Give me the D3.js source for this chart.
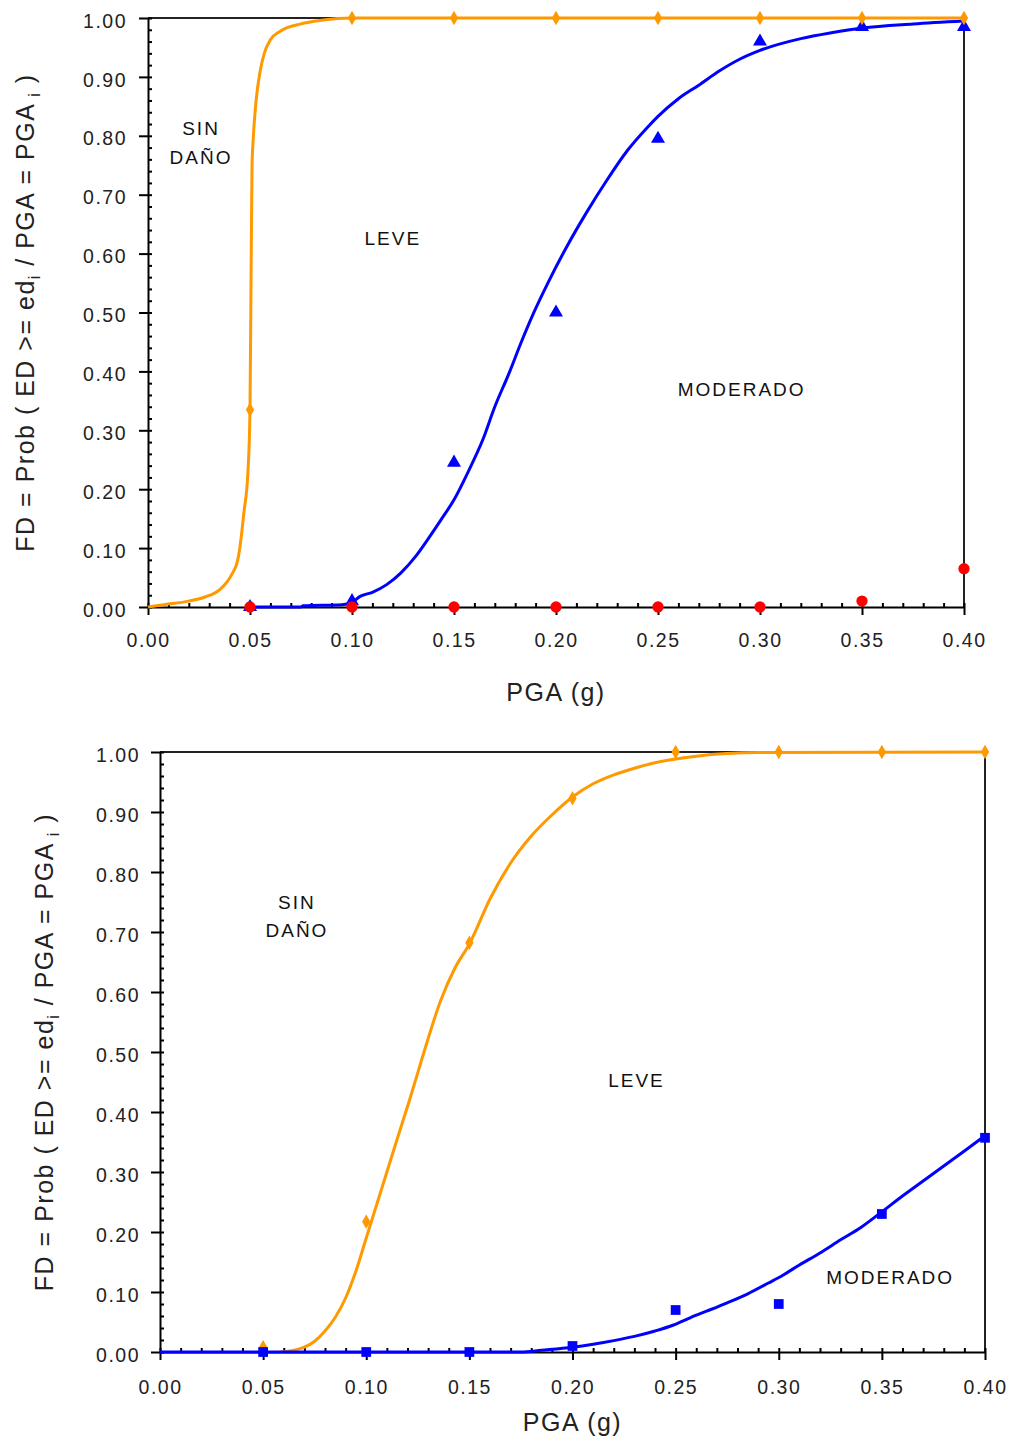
<!DOCTYPE html>
<head>
    <meta charset='utf-8'>
    <title>Curvas de fragilidad</title>
    <script src='https://d3js.org/d3.v7.min.js'></script>
    <style>
        html, body {
            margin: 0px;
            padding: 0px;
            background: white;
        }
        svg {
            display: block;
            font-family: 'Liberation Sans', Arial, sans-serif;
        }
        .tick text {
            font-size: 19.5px;
            letter-spacing: 1.5px;
            fill: #222;
        }
        .note {
            font-size: 19px;
            letter-spacing: 2px;
            fill: #111;
        }
        .title {
            font-size: 25px;
            letter-spacing: 1.5px;
            fill: #222;
        }
    </style>
</head>

<body>
    <svg id='chart' width='1011' height='1444'></svg>

    <script>
        // ---- data ----
        var pga = [0.05, 0.10, 0.15, 0.20, 0.25, 0.30, 0.35, 0.40];
        var xTickLabels = ['0.00', '0.05', '0.10', '0.15', '0.20', '0.25', '0.30', '0.35', '0.40'];
        var yTickLabels = ['0.00', '0.10', '0.20', '0.30', '0.40', '0.50', '0.60', '0.70', '0.80', '0.90', '1.00'];

        // panel 1 observed points
        var top_leve = [0.335, 1.00, 1.00, 1.00, 1.00, 1.00, 1.00, 1.00];      // orange diamonds
        var top_moderado = [0.00, 0.01, 0.245, 0.50, 0.795, 0.96, 0.985, 0.985]; // blue triangles
        var top_severo = [0.00, 0.00, 0.00, 0.00, 0.00, 0.00, 0.01, 0.065];     // red circles

        // panel 1 fitted curves [pga, prob]
        var top_leveCurve = [[0,0],[0.008,0.004],[0.020,0.010],[0.028,0.017],[0.035,0.029],[0.041,0.055],
            [0.044,0.08],[0.045,0.10],[0.047,0.16],[0.049,0.23],[0.050,0.335],[0.0505,0.55],[0.051,0.75],
            [0.0515,0.79],[0.053,0.86],[0.055,0.91],[0.057,0.94],[0.060,0.963],[0.065,0.978],[0.075,0.99],
            [0.085,0.996],[0.100,1.0],[0.400,1.0]];
        var top_moderadoCurve = [[0.050,0],[0.075,0.000],[0.076,0.002],[0.095,0.004],[0.100,0.008],[0.104,0.018],
            [0.110,0.025],[0.117,0.038],[0.124,0.058],[0.131,0.085],[0.138,0.119],[0.144,0.15],[0.150,0.182],
            [0.157,0.23],[0.164,0.283],[0.170,0.34],[0.177,0.397],[0.183,0.45],[0.189,0.499],[0.196,0.55],
            [0.205,0.61],[0.215,0.67],[0.225,0.725],[0.235,0.775],[0.245,0.815],[0.250,0.833],[0.260,0.863],
            [0.270,0.886],[0.280,0.91],[0.290,0.93],[0.300,0.945],[0.320,0.965],[0.335,0.975],[0.350,0.983],
            [0.375,0.99],[0.400,0.995]];

        // panel 2 observed points
        var bot_leve = [0.008, 0.217, 0.682, 0.923, 1.00, 1.00, 1.00, 1.00];    // orange diamonds
        var bot_moderado = [0.00, 0.00, 0.00, 0.01, 0.07, 0.08, 0.23, 0.357];   // blue squares

        // panel 2 fitted curves
        var bot_leveCurve = [[0.058,0],[0.065,0.003],[0.070,0.008],[0.075,0.018],[0.080,0.035],[0.085,0.058],
            [0.090,0.09],[0.095,0.135],[0.100,0.19],[0.105,0.245],[0.110,0.30],[0.115,0.355],[0.121,0.42],
            [0.128,0.50],[0.136,0.585],[0.143,0.64],[0.150,0.68],[0.160,0.755],[0.170,0.815],[0.180,0.86],
            [0.190,0.895],[0.200,0.925],[0.210,0.947],[0.220,0.962],[0.230,0.973],[0.240,0.982],[0.260,0.993],
            [0.290,0.999],[0.400,1.0]];
        var bot_moderadoCurve = [[0,0],[0.175,0],[0.185,0.003],[0.200,0.008],[0.210,0.013],[0.220,0.019],
            [0.230,0.026],[0.240,0.035],[0.249,0.045],[0.257,0.057],[0.265,0.068],[0.275,0.082],[0.285,0.097],
            [0.295,0.115],[0.302,0.128],[0.310,0.145],[0.320,0.165],[0.330,0.187],[0.340,0.208],[0.349,0.231],
            [0.360,0.26],[0.370,0.285],[0.380,0.31],[0.390,0.335],[0.399,0.358]];

        // region labels [pga, prob, text]
        var top_notes = [[0.026, 0.801, 'SIN'], [0.026, 0.752, 'DAÑO'], [0.120, 0.615, 'LEVE'], [0.291, 0.358, 'MODERADO']];
        var bot_notes = [[0.0664, 0.738, 'SIN'], [0.0664, 0.692, 'DAÑO'], [0.231, 0.442, 'LEVE'], [0.354, 0.113, 'MODERADO']];

        var ORANGE = '#ff9900', BLUE = '#0000ff', RED = '#ff0000';

        var svg = d3.select('#chart');

        function panel(opt) {
            var x = d3.scaleLinear().domain([0, 0.40]).range([opt.left, opt.right]);
            var y = d3.scaleLinear().domain([0, 1]).range([opt.bottom, opt.top]);
            var g = svg.append('g');

            var xMajor = xTickLabels.map(Number);
            var yMajor = yTickLabels.map(Number);
            var xMinor = d3.range(0, 41).map(function(i) { return i / 100; });
            var yMinor = d3.range(0, 51).map(function(i) { return i / 50; });

            // frame: top and right
            g.append('path')
                .attr('d', 'M' + x(0) + ',' + y(1) + 'H' + x(0.40) + 'V' + y(0))
                .attr('fill', 'none').attr('stroke', '#222').attr('stroke-width', 2);

            // inward ticks
            g.append('g').attr('transform', 'translate(0,' + y(0) + ')')
                .call(d3.axisBottom(x).tickValues(xMinor).tickSize(-4).tickSizeOuter(0).tickFormat(''))
                .call(function(s) { s.select('.domain').remove(); s.selectAll('line').attr('stroke', '#000').attr('stroke-width', 2); });
            g.append('g').attr('transform', 'translate(' + x(0) + ',0)')
                .call(d3.axisLeft(y).tickValues(yMinor).tickSize(-4).tickSizeOuter(0).tickFormat(''))
                .call(function(s) { s.select('.domain').remove(); s.selectAll('line').attr('stroke', '#000').attr('stroke-width', 2); });

            // major axes
            g.append('g').attr('transform', 'translate(0,' + y(0) + ')')
                .call(d3.axisBottom(x).tickValues(xMajor).tickSize(8).tickSizeOuter(0)
                    .tickPadding(opt.xPad).tickFormat(function(d, i) { return xTickLabels[i]; }))
                .call(function(s) {
                    s.select('.domain').attr('stroke', '#000').attr('stroke-width', 2);
                    s.selectAll('line').attr('stroke', '#000').attr('stroke-width', 2);
                    s.selectAll('text').attr('font-family', null).attr('font-size', null);
                });
            g.append('g').attr('transform', 'translate(' + x(0) + ',0)')
                .call(d3.axisLeft(y).tickValues(yMajor).tickSize(9).tickSizeOuter(0)
                    .tickPadding(opt.yPad).tickFormat(function(d, i) { return yTickLabels[i]; }))
                .call(function(s) {
                    s.select('.domain').attr('stroke', '#000').attr('stroke-width', 2);
                    s.selectAll('line').attr('stroke', '#000').attr('stroke-width', 2);
                    s.selectAll('text').attr('dy', '0.47em').attr('font-family', null).attr('font-size', null);
                });

            // curves
            var line = d3.line()
                .x(function(d) { return x(d[0]); })
                .y(function(d) { return y(d[1]); })
                .curve(d3.curveMonotoneX);

            opt.curves.forEach(function(c) {
                g.append('path').datum(c.data)
                    .attr('d', line)
                    .attr('fill', 'none')
                    .attr('stroke', c.color)
                    .attr('stroke-width', 3);
            });

            // markers
            opt.points.forEach(function(p) {
                g.append('g').selectAll('path')
                    .data(p.data.map(function(v, i) { return [pga[i], v]; }))
                    .enter().append('path')
                    .attr('transform', function(d) { return 'translate(' + x(d[0]) + ',' + y(d[1]) + ')'; })
                    .attr('d', d3.symbol().type(p.type).size(p.size))
                    .attr('fill', p.color);
            });

            // region labels
            g.selectAll('.note')
                .data(opt.notes)
                .enter().append('text')
                .attr('class', 'note')
                .attr('x', function(d) { return x(d[0]); })
                .attr('y', function(d) { return y(d[1]); })
                .attr('text-anchor', 'middle')
                .text(function(d) { return d[2]; });

            // axis titles
            g.append('text').attr('class', 'title')
                .attr('x', (x(0) + x(0.40)) / 2)
                .attr('y', y(0) + opt.xTitle)
                .attr('text-anchor', 'middle')
                .text('PGA (g)');

            var yt = g.append('text').attr('class', 'title')
                .attr('transform', 'translate(' + opt.yTitleX + ',' + (y(0) + y(1)) / 2 + ') rotate(-90)')
                .attr('text-anchor', 'middle');
            yt.append('tspan').text('FD = Prob ( ED >= ed');
            yt.append('tspan').attr('dy', 6).attr('font-size', 16).text('i');
            yt.append('tspan').attr('dy', -6).text(' / PGA = PGA');
            yt.append('tspan').attr('dy', 6).attr('font-size', 16).text(' i');
            yt.append('tspan').attr('dy', -6).text(' )');
        }

        panel({
            left: 148, right: 964, top: 18, bottom: 607,
            xPad: 18, yPad: 12, xTitle: 94, yTitleX: 34,
            curves: [
                { data: top_moderadoCurve, color: BLUE },
                { data: top_leveCurve, color: ORANGE }
            ],
            points: [
                { data: top_moderado, color: BLUE, type: d3.symbolTriangle, size: 85 },
                { data: top_leve, color: ORANGE, type: d3.symbolDiamond, size: 60 },
                { data: top_severo, color: RED, type: d3.symbolCircle, size: 100 }
            ],
            notes: top_notes
        });

        panel({
            left: 160, right: 985, top: 752, bottom: 1352,
            xPad: 20, yPad: 11, xTitle: 79, yTitleX: 53,
            curves: [
                { data: bot_leveCurve, color: ORANGE },
                { data: bot_moderadoCurve, color: BLUE }
            ],
            points: [
                { data: bot_leve, color: ORANGE, type: d3.symbolDiamond, size: 60 },
                { data: bot_moderado, color: BLUE, type: d3.symbolSquare, size: 95 }
            ],
            notes: bot_notes
        });
    </script>
</body>
